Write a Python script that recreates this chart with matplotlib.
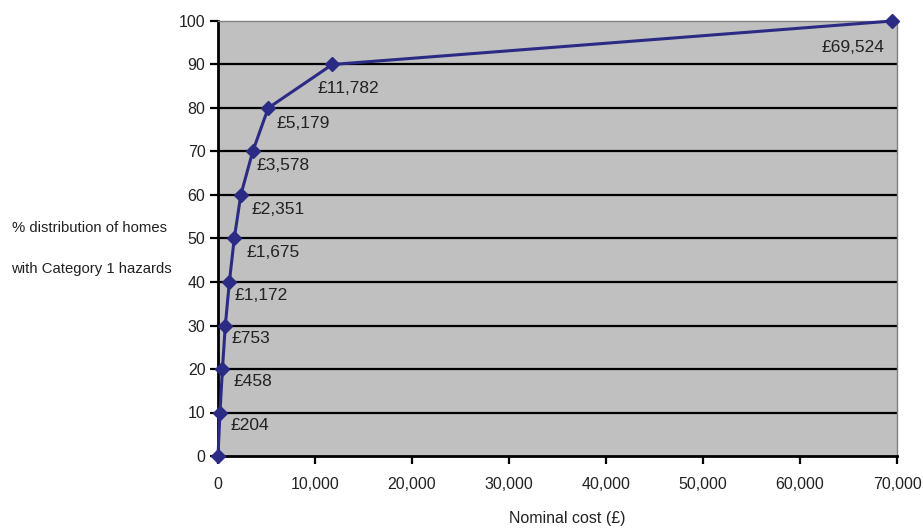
import matplotlib.pyplot as plt
from matplotlib.ticker import FuncFormatter

plt.rcParams['font.family'] = ['Liberation Sans', 'DejaVu Sans']

# data
cost = [0, 204, 458, 753, 1172, 1675, 2351, 3578, 5179, 11782, 69524]
pct = [0, 10, 20, 30, 40, 50, 60, 70, 80, 90, 100]
labels = ['', '£204', '£458', '£753', '£1,172', '£1,675', '£2,351',
          '£3,578', '£5,179', '£11,782', '£69,524']
# label offsets in pixels (dx, dy)
offsets = [(0, 0), (11, -13), (11, -13), (6, -13), (5, -14), (12, -14),
           (11, -15), (4, -14), (8, -16), (-15, -24), (-8, -27)]

fig = plt.figure(figsize=(9.23, 5.28), dpi=100)
ax = fig.add_axes([218 / 923, 1 - 456 / 528, (897 - 218) / 923, (456 - 21) / 528])
ax.set_facecolor('#c0c0c0')

for v in pct[1:-1]:
    ax.axhline(v, color='black', lw=1.6, zorder=1)

ax.plot(cost, pct, color='#2b2b85', lw=2.2, marker='D', markersize=7,
        markerfacecolor='#2b2b85', markeredgecolor='#2b2b85', zorder=3, clip_on=False)

for x, y, t, (dx, dy) in zip(cost, pct, labels, offsets):
    if not t:
        continue
    ha = 'right' if x > 60000 else 'left'
    ax.annotate(t, (x, y), xytext=(dx, dy), textcoords='offset pixels',
                ha=ha, va='center', fontsize=12.5, color='#222222')

ax.set_xlim(0, 70000)
ax.set_ylim(0, 100)
ax.set_xticks(range(0, 70001, 10000))
ax.set_yticks(pct)
ax.xaxis.set_major_formatter(FuncFormatter(lambda v, p: f'{int(v):,}'))
ax.tick_params(axis='both', labelsize=11.5, colors='black', labelcolor='#222222',
               width=1.6, length=6, direction='out')
ax.tick_params(axis='x', pad=9)
ax.tick_params(axis='y', pad=3)

for s in ['top', 'right']:
    ax.spines[s].set_color('#808080')
    ax.spines[s].set_linewidth(1)
for s in ['left', 'bottom']:
    ax.spines[s].set_color('black')
    ax.spines[s].set_linewidth(2)

ax.set_xlabel('Nominal cost (£)', fontsize=11.5, color='#222222')
ax.xaxis.set_label_coords(0.515, -0.126)

fig.text(0.013, 1 - 228 / 528, '% distribution of homes', fontsize=10.7, color='#222222', va='center')
fig.text(0.012, 1 - 269 / 528, 'with Category 1 hazards', fontsize=10.7, color='#222222', va='center')

fig.savefig('out.png', dpi=100)
